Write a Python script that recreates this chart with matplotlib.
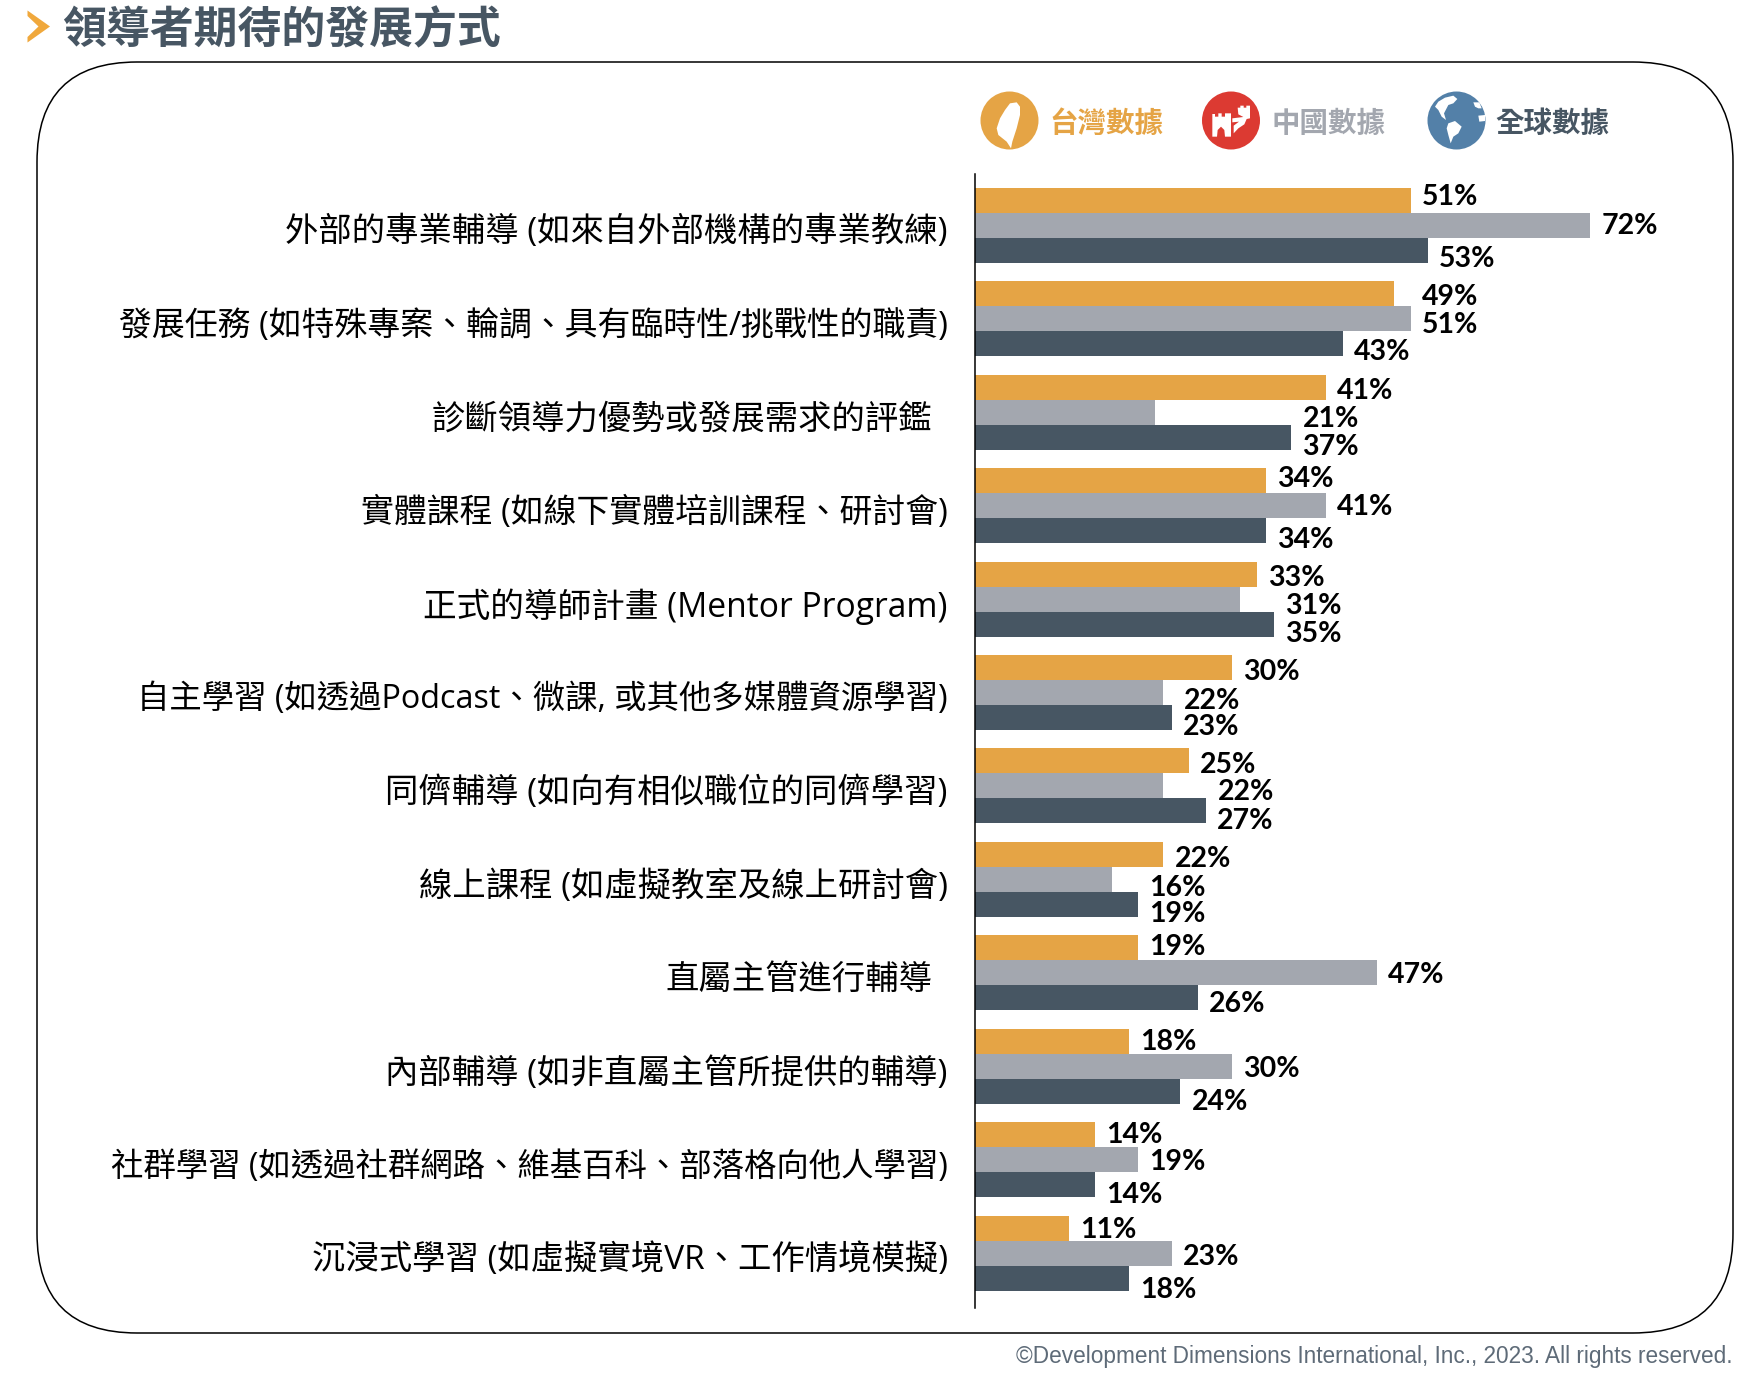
import matplotlib
matplotlib.use('Agg')
import matplotlib.pyplot as plt
from matplotlib.patches import Circle, FancyBboxPatch, Polygon
from matplotlib.transforms import ScaledTranslation

plt.rcParams['font.family'] = ['Noto Sans CJK TC', 'DejaVu Sans']

W, H = 1756, 1376

categories = [
    '外部的專業輔導 (如來自外部機構的專業教練)',
    '發展任務 (如特殊專案、輪調、具有臨時性/挑戰性的職責)',
    '診斷領導力優勢或發展需求的評鑑',
    '實體課程 (如線下實體培訓課程、研討會)',
    '正式的導師計畫 (Mentor Program)',
    '自主學習 (如透過Podcast、微課, 或其他多媒體資源學習)',
    '同儕輔導 (如向有相似職位的同儕學習)',
    '線上課程 (如虛擬教室及線上研討會)',
    '直屬主管進行輔導',
    '內部輔導 (如非直屬主管所提供的輔導)',
    '社群學習 (如透過社群網路、維基百科、部落格向他人學習)',
    '沉浸式學習 (如虛擬實境VR、工作情境模擬)',
]
taiwan = [51, 49, 41, 34, 33, 30, 25, 22, 19, 18, 14, 11]
china = [72, 51, 21, 41, 31, 22, 22, 16, 47, 30, 19, 23]
world = [53, 43, 37, 34, 35, 23, 27, 19, 26, 24, 14, 18]
legend_names = ['台灣數據', '中國數據', '全球數據']

ORANGE = '#E5A445'
GREY = '#A3A7AF'
DARK = '#475663'
BLUE = '#5380A8'
RED = '#DC3A32'

# the reference squeezes its 、 so those lines get a slightly smaller size to keep their width
label_sizes = [24, 23.7, 24, 23.65, 24.25, 23.3, 24, 24, 24, 24, 23.35, 24]
# how far each value label sits off its bar centre, in pixels of the picture
dy_taiwan = [-6, 1, 1, -4, 1, 2, 2, 2, -3, -2, -2, -1]
dy_china = [-2, 4, 4, -1, 4, 6, 4, 6, 0, 0, 0, 1]
dy_world = [6, 6, 7, 7, 7, 7, 8, 7, 4, 8, 8, 9]
# labels pushed further right than the usual gap, (series, group): pixels
extra_dx = {(0, 1): 17, (1, 2): 137, (1, 4): 34, (1, 5): 9, (1, 6): 43, (1, 7): 26}

fig = plt.figure(figsize=(W / 100, H / 100), dpi=100, facecolor='white')

# whole picture in pixel coordinates, for the frame, title and icons
bg = fig.add_axes([0, 0, 1, 1])
bg.set_xlim(0, W)
bg.set_ylim(H, 0)
bg.axis('off')

bg.add_patch(FancyBboxPatch((37, 62), 1696, 1271, boxstyle='round,pad=0,rounding_size=100',
                            fc='none', ec='black', lw=1.1))
bg.add_patch(Polygon([(27.5, 10.5), (50, 26.5), (27.5, 42.5), (27.5, 37), (38.5, 26.5), (27.5, 16)],
                     closed=True, fc='#F0A83C', ec='none'))
bg.text(62, 30, '領導者期待的發展方式', fontsize=31.6, fontweight='bold', color=DARK,
        va='center', ha='left')


def crop_pts(pts, x0, y0):
    return [(x0 + px / 3, y0 + py / 3) for px, py in pts]


def white_shape(pts, x0, y0):
    bg.add_patch(Polygon(crop_pts(pts, x0, y0), closed=True, fc='white', ec='none'))


# taiwan icon
bg.add_patch(Circle((1009.5, 120.5), 29, fc=ORANGE, ec='none'))
white_shape([(125, 52), (105, 55), (90, 75), (75, 100), (65, 130), (70, 150), (95, 170), (108, 190),
             (112, 170), (125, 130), (135, 90), (135, 65)], 975, 85)
# china icon, towers of the wall
bg.add_patch(Circle((1231, 120.5), 29, fc=RED, ec='none'))
white_shape([(52, 87), (60, 87), (60, 95), (70, 95), (70, 85), (80, 85), (80, 95), (90, 95), (90, 85),
             (108, 85), (108, 155), (90, 155), (88, 135), (78, 125), (68, 135), (66, 155), (52, 155)], 1195, 85)
white_shape([(128, 68), (136, 68), (136, 62), (146, 62), (146, 68), (154, 68), (154, 62), (165, 62),
             (165, 100), (155, 102), (148, 118), (130, 130), (116, 145), (116, 122), (132, 110),
             (112, 112), (112, 100), (145, 96), (130, 88)], 1195, 85)
# globe icon
bg.add_patch(Circle((1456.5, 120.5), 29, fc=BLUE, ec='none'))
white_shape([(55, 50), (75, 38), (100, 32), (112, 42), (100, 55), (85, 60), (72, 85), (78, 105),
             (65, 95), (55, 75), (45, 65)], 1420, 85)
white_shape([(85, 115), (105, 108), (125, 125), (115, 145), (100, 155), (92, 175), (85, 150), (80, 130)],
            1420, 85)
white_shape([(160, 52), (178, 52), (185, 70), (175, 70), (165, 65)], 1420, 85)
white_shape([(175, 92), (195, 90), (195, 108), (178, 110)], 1420, 85)

for name, color, x in zip(legend_names, [ORANGE, GREY, DARK], [1049, 1272, 1495]):
    bg.text(x, 124, name, fontsize=20.5, fontweight='bold', color=color, va='center', ha='left')

bg.text(1733, 1357, '©Development Dimensions International, Inc., 2023. All rights reserved.',
        fontsize=16.3, family='Liberation Sans', color='#5E6B78', va='center', ha='right')

# bar axes: x is percent, one group is one unit on y
x0, per_pct = 975.5, 8.54
y_first, pitch = 225.2, 93.45
y_top, y_bottom = 174, 1308
ax_right = 1700
ax = fig.add_axes([x0 / W, 1 - y_bottom / H, (ax_right - x0) / W, (y_bottom - y_top) / H])
ax.patch.set_alpha(0)
ax.set_xlim(0, (ax_right - x0) / per_pct)
ax.set_ylim((y_bottom - y_first) / pitch, (y_top - y_first) / pitch)
for side in ['top', 'right', 'bottom']:
    ax.spines[side].set_visible(False)
ax.spines['left'].set_linewidth(1.1)
ax.spines['left'].set_color('black')
ax.set_xticks([])
ax.tick_params(axis='y', length=0, pad=20)

groups = list(range(len(categories)))
ax.set_yticks(groups)
ax.set_yticklabels(categories, color='black', family=['Open Sans', 'Noto Sans CJK TC'])
# labels sit a little low, and the two without a bracket stop short of the others
for tick, size in zip(ax.get_yticklabels(), label_sizes):
    tick.set_fontsize(size)
    shift = 0 if '(' in tick.get_text() else -15
    tick.set_transform(tick.get_transform() + ScaledTranslation(shift / 100, -3.5 / 100, fig.dpi_scale_trans))

bar_h = 25 / pitch
series = [(taiwan, ORANGE, dy_taiwan), (china, GREY, dy_china), (world, DARK, dy_world)]
for s, (vals, color, dys) in enumerate(series):
    offset = (s - 1) * bar_h
    ax.barh([g + offset for g in groups], vals, height=bar_h, color=color, lw=0)
    for g, v in enumerate(vals):
        dx = 11 + extra_dx.get((s, g), 0)
        # annotate offsets are points, the picture is 100 dpi
        ax.annotate(f'{v}%', xy=(v, g + offset), xytext=(dx * 0.72, -(dys[g] + 2.5) * 0.72),
                    textcoords='offset points', fontsize=20.5, fontweight='bold',
                    family='Lato', color='black', va='center', ha='left')

fig.savefig('out.png', dpi=100)
